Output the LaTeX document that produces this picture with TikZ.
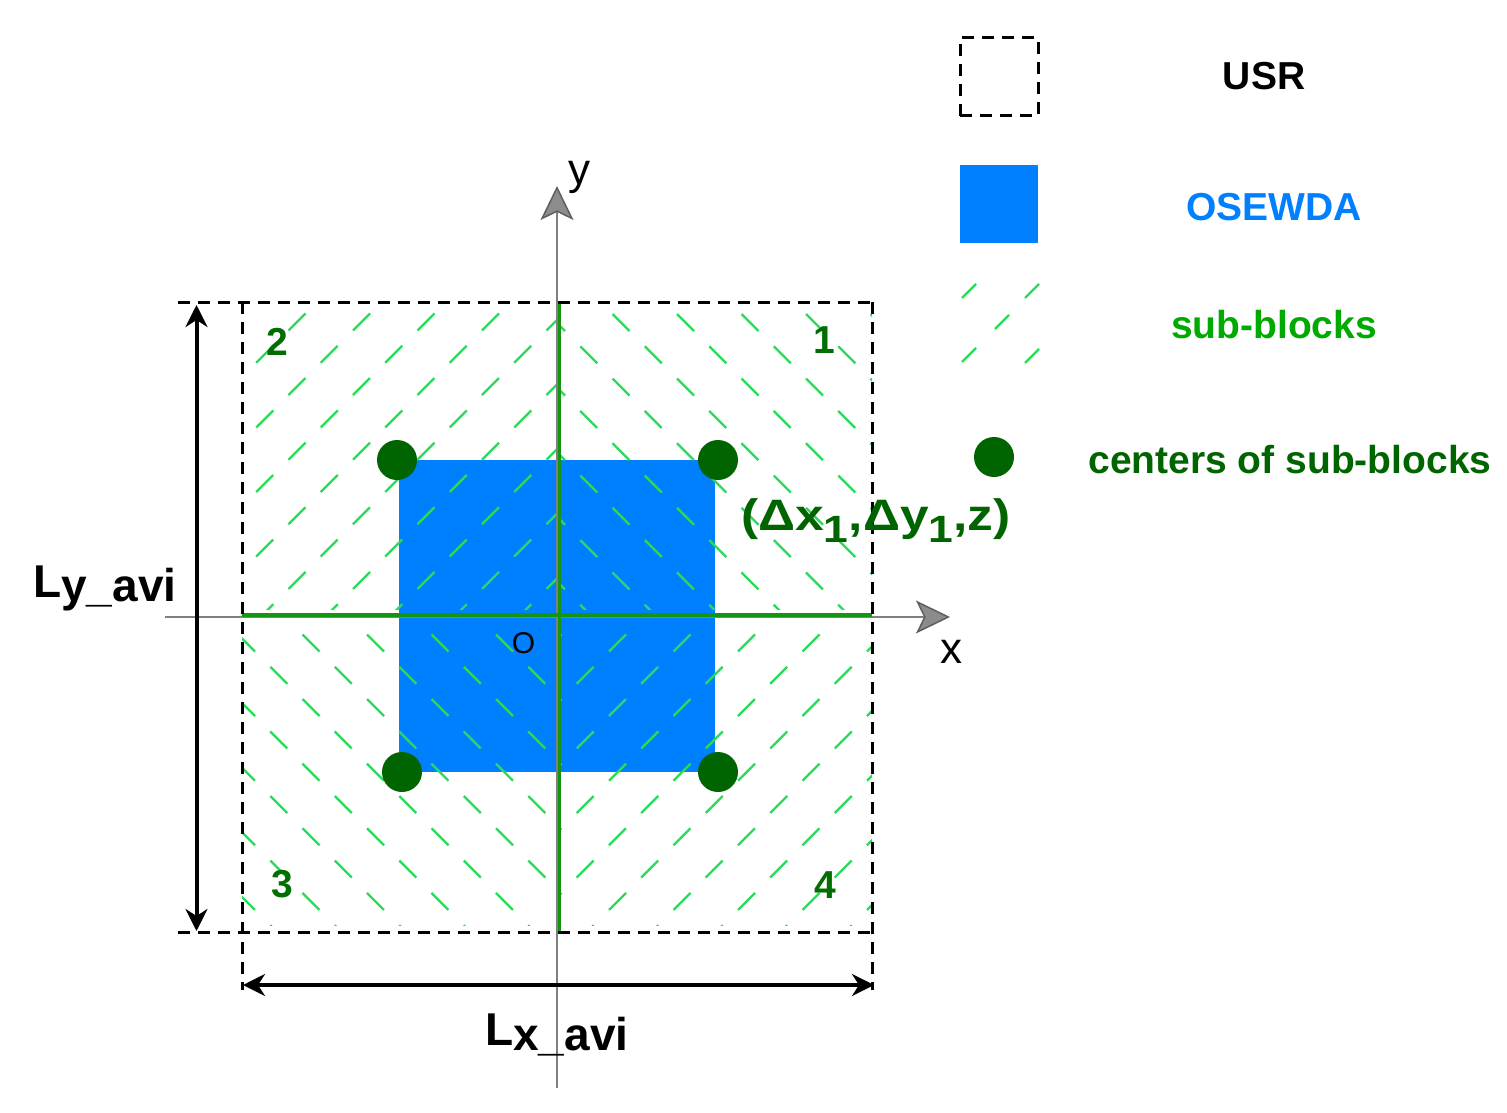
\documentclass[tikz,border=0pt]{standalone}
\usepackage{fontspec}
\setmainfont{Liberation Sans}
\usetikzlibrary{arrows.meta}
\definecolor{osblue}{RGB}{0,128,255}
\definecolor{dkgreen}{RGB}{0,100,0}
\definecolor{numgreen}{RGB}{0,110,0}
\definecolor{subgreen}{RGB}{0,170,0}
\definecolor{hatchgreen}{RGB}{40,220,90}
\definecolor{axgreen}{RGB}{20,150,20}
\definecolor{axgray}{RGB}{128,128,128}
\definecolor{tipfill}{RGB}{140,140,140}
\definecolor{tipdraw}{RGB}{95,95,95}
\newcommand\hatchquad[7]{%
  \begin{scope}
    \clip (#4,#6) rectangle (#5,#7);
    \foreach \j in {-1,...,9}{
      \foreach \i in {-1,...,6}{
        \pgfmathsetmacro\cx{#1+64.5*\i-32.25*mod(\j+2,2)}
        \pgfmathsetmacro\cy{#2+32.3*\j}
        \pgfmathsetmacro\dy{8.5*(#3)}
        \draw[hatchdash] (\cx-8.5,\cy+\dy) -- (\cx+8.5,\cy-\dy);
      }}
  \end{scope}}
\begin{document}
\begin{tikzpicture}[x=1pt,y=-1pt,
  usr/.style={black,line width=3pt,dash pattern=on 12pt off 8pt},
  hatchdash/.style={hatchgreen,line width=2.3pt},
  axisline/.style={axgray,line width=2.5pt,
    -{Stealth[length=34pt,width=33pt,inset=8pt,fill=tipfill,color=tipdraw,line width=1.5pt]}},
  innerline/.style={axgreen,line width=3.5pt},
  centerdot/.style={circle,fill=dkgreen,minimum size=40pt,inner sep=0pt},
  dimarrow/.style={black,line width=4pt,
    {Stealth[length=22pt,width=22pt,inset=7pt]}-{Stealth[length=22pt,width=22pt,inset=7pt]}},
  legtext/.style={font=\fontsize{39}{47}\selectfont\bfseries,anchor=base,inner sep=0pt},
  numtext/.style={font=\fontsize{39}{47}\selectfont\bfseries,text=numgreen,anchor=base,inner sep=0pt},
  axlabel/.style={font=\fontsize{44}{50}\selectfont,anchor=base,inner sep=0pt},
  dimlabel/.style={font=\fontsize{46}{52}\selectfont\bfseries,anchor=base west,inner sep=0pt}
]
\useasboundingbox (0,0) rectangle (1507,1113);

% OSEWDA square
\fill[osblue] (399,460) rectangle (715,772);

% hatch of the four sub-blocks
\hatchquad{297}{322}{1}{242}{557.5}{302}{609}
\hatchquad{621}{322.5}{-1}{558.5}{872}{302}{609}
\hatchquad{311}{643}{-1}{242}{557.5}{620}{925}
\hatchquad{617.5}{643}{1}{558.5}{872}{620}{925}

% axes
\coordinate (yb) at (557,1088);
\coordinate (yt) at (557,186);
\coordinate (xl) at (165,617);
\coordinate (xr) at (950,617);
\draw[axisline] (yb) -- (yt);
\draw[axisline] (xl) -- (xr);

% green division lines
\coordinate (gvt) at (559.5,302);
\coordinate (gvb) at (559.5,932);
\coordinate (ghl) at (242,615);
\coordinate (ghr) at (872,615);
\draw[innerline] (gvt) -- (gvb);
\draw[innerline] (ghl) -- (ghr);

% USR box with extension lines
\coordinate (tl0) at (178,302); \coordinate (tr) at (872,302);
\coordinate (bl0) at (178,932); \coordinate (br) at (872,932);
\coordinate (lt) at (242,302); \coordinate (lb) at (242,990);
\coordinate (rt) at (872,302); \coordinate (rb) at (872,990);
\draw[usr] (tl0) -- (tr);
\draw[usr] (bl0) -- (br);
\draw[usr] (lt) -- (lb);
\draw[usr] (rt) -- (rb);

% centers of sub-blocks
\node[centerdot] (c2) at (397,460) {};
\node[centerdot] (c1) at (718,460) {};
\node[centerdot] (c3) at (402,772) {};
\node[centerdot] (c4) at (718,772) {};

% dimension arrows
\coordinate (dyt) at (196.5,305);
\coordinate (dyb) at (196.5,931);
\coordinate (dxl) at (243,985);
\coordinate (dxr) at (874,985);
\draw[dimarrow] (dyt) -- (dyb);
\draw[dimarrow] (dxl) -- (dxr);

% labels
\node[axlabel] (ylab) at (579,184) {y};
\node[axlabel] (xlab) at (951,663) {x};
\node[axlabel,font=\fontsize{30}{34}\selectfont] (olab) at (523.5,653) {O};
\node[numtext] (n2) at (277,355) {2};
\node[numtext] (n1) at (824,353) {1};
\node[numtext] (n3) at (282,897) {3};
\node[numtext] (n4) at (825,898) {4};
\node[dimlabel] (ly) at (33,597) {L\raisebox{-4pt}{y\_avi}};
\node[dimlabel] (lx) at (485,1045) {L\raisebox{-5pt}{x\_avi}};
\node[anchor=base west,inner sep=0pt,text=dkgreen,font=\fontsize{44}{50}\selectfont\bfseries] (coord) at (741,530)
  {\scalebox{1.17}[1]{(Δx\raisebox{-12pt}{\fontsize{38}{40}\selectfont 1},Δy\raisebox{-12pt}{\fontsize{38}{40}\selectfont 1},z)}};

% legend
\node[draw,usr,minimum size=78pt,inner sep=0pt] (legusr) at (999,77) {};
\node[fill=osblue,minimum size=78pt,inner sep=0pt] (legos) at (999,204) {};
\foreach \hx/\hy in {969/291,1032/291,1002/322,969/355,1032/356}{
  \draw[hatchdash] (\hx-7,\hy+7) -- (\hx+7,\hy-7);
}
\node[centerdot] (legdot) at (994,457) {};
\node[legtext] (tusr) at (1264,90) {USR};
\node[legtext,text=osblue] (tos) at (1274,220) {OSEWDA};
\node[legtext,text=subgreen] (tsub) at (1274,338) {sub-blocks};
\node[legtext,text=dkgreen] (tcen) at (1290,473) {centers of sub-blocks};
\end{tikzpicture}
\end{document}
